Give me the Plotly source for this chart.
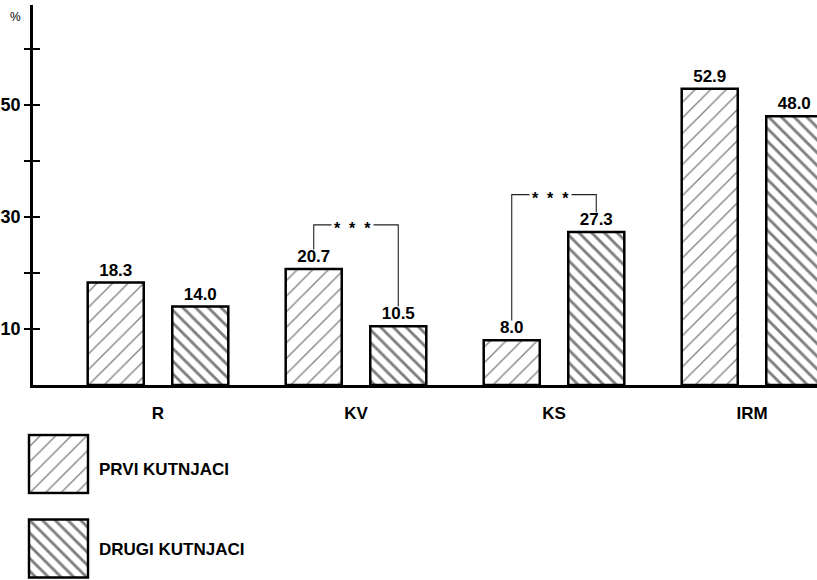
import plotly.graph_objects as go

# ---- data ----
categories = ["R", "KV", "KS", "IRM"]
prvi = [18.3, 20.7, 8.0, 52.9]
drugi = [14.0, 10.5, 27.3, 48.0]
series_names = ["PRVI KUTNJACI", "DRUGI KUTNJACI"]
y_tickvals = [10, 20, 30, 40, 50, 60]
y_ticktext = ["10", "", "30", "", "50", ""]
sig_categories = ["KV", "KS"]
sig_top = [28.6, 34.0]
sig_label = "* * *"

FONT = "Liberation Sans, Arial, sans-serif"
W, H = 817, 580
M_T = 5
PH = H - M_T

BARGAP = 0.146
GROUPGAP = 0.337
slot = (1 - BARGAP) / 2
off = slot / 2  # bar centre offset from category centre

line = dict(color="black", width=2.5)
pat1 = dict(shape="/", size=11, solidity=0.12, fgcolor="black", bgcolor="white")
pat2 = dict(shape="\\", size=9, solidity=0.32, fgcolor="black", bgcolor="white")
tfont = dict(family=FONT, size=17, color="black")

fig = go.Figure()
fig.add_trace(go.Bar(x=categories, y=prvi, name=series_names[0],
                     marker=dict(color="white", line=line, pattern=pat1),
                     texttemplate="<b>%{y:.1f}</b>", textposition="outside",
                     textfont=tfont, cliponaxis=False, showlegend=False))
fig.add_trace(go.Bar(x=categories, y=drugi, name=series_names[1],
                     marker=dict(color="white", line=line, pattern=pat2),
                     texttemplate="<b>%{y:.1f}</b>", textposition="outside",
                     textfont=tfont, cliponaxis=False, showlegend=False))
# invisible trace to carry the overlay axis (ticks inside)
fig.add_trace(go.Scatter(x=[categories[0]], y=[0], yaxis="y4", mode="markers",
                         marker=dict(opacity=0), showlegend=False, hoverinfo="skip"))

# legend swatches (own small axes)
fig.add_trace(go.Bar(x=[0], y=[1], width=[1], offset=-0.5, xaxis="x2", yaxis="y2",
                     marker=dict(color="white", line=line, pattern=pat1),
                     showlegend=False, hoverinfo="skip"))
fig.add_trace(go.Bar(x=[0], y=[1], width=[1], offset=-0.5, xaxis="x3", yaxis="y3",
                     marker=dict(color="white", line=line, pattern=pat2),
                     showlegend=False, hoverinfo="skip"))

px_x = lambda p: p / W
px_y = lambda p: (H - p) / PH

x_left = -125 / 198
x_right = x_left + (W - 33) / 198
y_top = 380 / 5.6

shapes = []
annotations = []
for c, top in zip(sig_categories, sig_top):
    i = categories.index(c)
    xl, xr = i - off, i + off
    vl = prvi[i] + 3.5
    vr = drugi[i] + 3.5
    path = f"M {xl},{vl} L {xl},{top} L {xr},{top} L {xr},{vr}"
    shapes.append(dict(type="path", path=path, xref="x", yref="y",
                       line=dict(color="#222", width=1.1)))
    annotations.append(dict(x=i - 0.02, y=top, xref="x", yref="y",
                            text="<b>" + sig_label.replace(" ", "&nbsp;&nbsp;") + "</b>",
                            showarrow=False, bgcolor="white", yshift=-4,
                            xanchor="center", yanchor="middle",
                            font=dict(family=FONT, size=16, color="black"),
                            borderpad=2))

annotations.append(dict(x=px_x(15), y=px_y(17), xref="paper", yref="paper", text="%",
                        showarrow=False, xanchor="center", yanchor="middle",
                        font=dict(family=FONT, size=12, color="black")))
for name, yc in zip(series_names, [469, 549]):
    annotations.append(dict(x=px_x(97), y=px_y(yc), xref="paper", yref="paper",
                            text="<b>" + name + "</b>", showarrow=False,
                            xanchor="left", yanchor="middle",
                            font=dict(family=FONT, size=17, color="black")))

axis_common = dict(showgrid=False, zeroline=False)
fig.update_layout(
    width=W, height=H,
    margin=dict(l=0, r=0, t=M_T, b=0, autoexpand=False),
    paper_bgcolor="white", plot_bgcolor="white",
    barmode="group", bargap=BARGAP, bargroupgap=GROUPGAP,
    font=dict(family=FONT, color="black"),
    xaxis=dict(domain=[px_x(33), 1], range=[x_left, x_right], type="category",
               showline=True, linecolor="black", linewidth=2.5,
               ticks="outside", ticklen=11, tickcolor="rgba(0,0,0,0)",
               tickfont=dict(family=FONT, size=17, color="black"),
               tickprefix="<b>", ticksuffix="</b>", automargin=False, **axis_common),
    yaxis=dict(domain=[px_y(385), 1], range=[0, y_top], anchor="x",
               showline=True, linecolor="black", linewidth=2.5,
               tickvals=y_tickvals, ticktext=["<b>" + t + "</b>" if t else "" for t in y_ticktext],
               ticks="outside", ticklen=6, tickwidth=1.5, tickcolor="black",
               tickfont=dict(family=FONT, size=18, color="black"),
               automargin=False, **axis_common),
    yaxis4=dict(overlaying="y", anchor="x", range=[0, y_top], tickvals=y_tickvals,
                ticks="inside", ticklen=7, tickwidth=1.5, tickcolor="black",
                showticklabels=False, showline=False, side="left", **axis_common),
    xaxis2=dict(domain=[px_x(27.2), px_x(89.8)], range=[-0.53, 0.53], anchor="y2",
                visible=False),
    yaxis2=dict(domain=[px_y(494.8), px_y(433.2)], range=[-0.03, 1.03], anchor="x2",
                visible=False),
    xaxis3=dict(domain=[px_x(27.2), px_x(89.8)], range=[-0.53, 0.53], anchor="y3",
                visible=False),
    yaxis3=dict(domain=[max(0, px_y(579.3)), px_y(517.7)], range=[-0.03, 1.03], anchor="x3",
                visible=False),
    shapes=shapes, annotations=annotations,
    uniformtext=dict(mode=False),
)

fig.write_html("out.html", config={"displayModeBar": False},
               post_script="document.body.style.margin='0';document.body.style.overflow='hidden';")
